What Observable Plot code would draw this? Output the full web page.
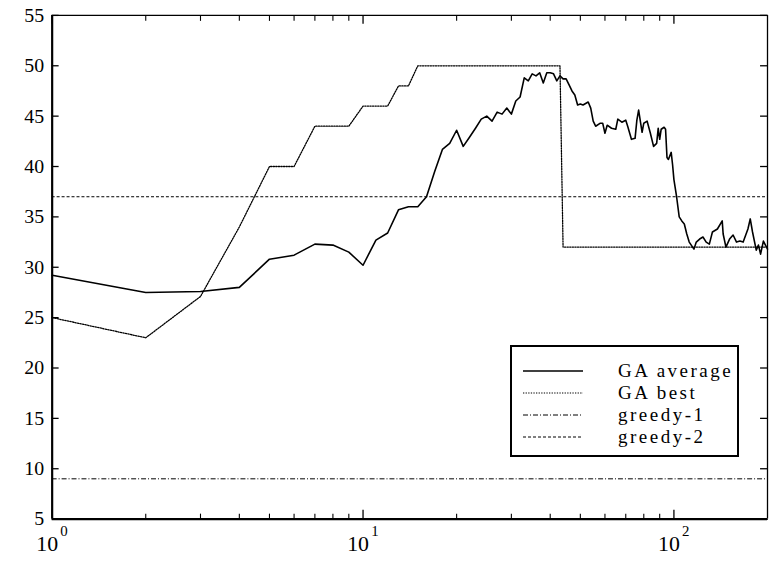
<!DOCTYPE html>
<html>
<head>
<meta charset="utf-8">
<script src="https://cdn.jsdelivr.net/npm/d3@7"></script>
<script src="https://cdn.jsdelivr.net/npm/@observablehq/plot@0.6"></script>
<style>
  html, body { margin: 0; padding: 0; background: #fff; overflow: hidden; }
  #wrap { position: relative; width: 769px; height: 567px; overflow: hidden; }
  #legend { position: absolute; left: 510px; top: 345px; width: 225px; height: 108px;
    border: 2px solid #000; background: #fff; font-family: "Liberation Serif", "Times New Roman", "DejaVu Serif", serif; font-size: 19px; }
  .row { position: absolute; left: 0; height: 22px; width: 225px; }
  .row svg { position: absolute; left: 11px; top: 0; }
  .row span { position: absolute; left: 106px; top: 0; line-height: 22px; letter-spacing: 2.5px; white-space: nowrap; }
</style>
</head>
<body>
<div id="wrap"></div>
<script>
// GA average (generation, fitness)
const avgGen = [1,2,3,4,5,6,7,8,9,10,11,12,13,14,15,16,17,18,19,20,21,22,23,24,25,26,27,28,29,30,31,32,33,34,35,36,37,38,39,40,41,42,43,44,45,46,47,48,49,50,51,53,54,55,56,58,59,60,61,63,65,66,68,70,71,73,75,76,77,79,80,82,84,86,88,89,90,91,93,94,95,96,98,99,100,102,104,106,108,110,112,116,118,121,124,127,130,133,138,143,144,147,151,155,159,163,167,173,176,179,184,187,190,194,200];
const avgVal = [29.2,27.5,27.6,28.0,30.8,31.2,32.3,32.2,31.5,30.2,32.7,33.4,35.7,36.0,36.0,37.0,39.5,41.7,42.3,43.6,42.0,42.9,43.8,44.7,45.0,44.5,45.4,45.2,45.8,45.2,46.5,46.9,48.8,48.5,49.2,49.0,49.3,48.3,49.3,49.3,49.2,48.5,49.0,48.7,48.7,48.1,47.5,47.1,46.1,46.2,46.1,46.4,45.8,44.5,44.0,44.3,44.3,43.3,44.1,43.8,43.7,44.7,44.4,44.6,44.0,42.7,42.8,44.6,45.6,43.4,44.3,44.5,43.3,42.0,42.3,43.8,42.7,43.7,43.9,43.7,40.9,40.7,41.4,40.2,38.7,37.0,35.0,34.6,34.3,33.3,32.5,31.8,32.5,32.8,33.0,32.5,32.3,33.5,33.8,34.6,33.3,32.0,32.8,33.2,32.5,32.6,32.5,33.8,34.8,33.5,31.7,32.2,31.3,32.6,31.8];
// GA best
const bestGen = [1,2,3,4,5,6,7,8,9,10,11,12,13,14,15,43,44,200];
const bestVal = [25,23,27.1,34,40,40,44,44,44,46,46,46,48,48,50,50,32,32];
// greedy baselines
const greedy1 = 9;
const greedy2 = 37;
// ticks
const yTicks = [5,10,15,20,25,30,35,40,45,50,55];
const xMajor = [1,10,100];
const xExp = ["0","1","2"];
const xMinor = [2,3,4,5,6,7,8,9,20,30,40,50,60,70,80,90];
const legendNames = ["GA average","GA best","greedy-1","greedy-2"];

const avg = avgGen.map((g,i)=>({g, v: avgVal[i]}));
const best = bestGen.map((g,i)=>({g, v: bestVal[i]}));

const serif = '"Liberation Serif", "Times New Roman", "DejaVu Serif", serif';
const chart = Plot.plot({
  width: 774, height: 567,
  marginLeft: 52, marginRight: 2, marginTop: 15, marginBottom: 45,
  x: {type: "log", domain: [1, 200]},
  y: {domain: [5, 55]},
  style: {fontFamily: serif, background: "white", color: "black", overflow: "visible"},
  marks: [
    Plot.ruleY([greedy1], {stroke: "black", strokeWidth: 1, strokeDasharray: "5,2,1,2"}),
    Plot.ruleY([greedy2], {stroke: "black", strokeWidth: 1, strokeDasharray: "3,2"}),
    Plot.line(best, {x: "g", y: "v", stroke: "black", strokeWidth: 1.3, strokeDasharray: "1.3,1.3"}),
    Plot.line(avg, {x: "g", y: "v", stroke: "black", strokeWidth: 1.6}),
    Plot.ruleX([1], {stroke: "black", strokeWidth: 2.2}),
    Plot.ruleY([5], {stroke: "black", strokeWidth: 2.2}),
    Plot.ruleY([55], {stroke: "black", strokeWidth: 1.3}),
    Plot.ruleX([200], {stroke: "black", strokeWidth: 1.3}),
    Plot.axisY({anchor: "left", ticks: yTicks, tickSize: -7, tickFormat: () => "", label: null, strokeWidth: 1.3}),
    Plot.axisY({anchor: "right", ticks: yTicks, tickSize: -8, tickFormat: () => "", label: null, strokeWidth: 1.3}),
    Plot.axisX({anchor: "bottom", ticks: xMajor, tickSize: -9, tickFormat: () => "", label: null, strokeWidth: 1.3}),
    Plot.axisX({anchor: "bottom", ticks: xMinor, tickSize: -5, tickFormat: () => "", label: null, strokeWidth: 1.1}),
    Plot.axisX({anchor: "top", ticks: xMajor, tickSize: -8, tickFormat: () => "", label: null, strokeWidth: 1.3}),
    Plot.axisX({anchor: "top", ticks: xMinor, tickSize: -5, tickFormat: () => "", label: null, strokeWidth: 1.1}),
    Plot.text(yTicks, {y: d => d, text: d => String(d), frameAnchor: "left", textAnchor: "end", dx: -8, fontSize: 20, fill: "black"}),
    Plot.text(xMajor, {x: d => d, text: () => "10", frameAnchor: "bottom", dx: -5, dy: 32, fontSize: 22, fill: "black"}),
    Plot.text(xMajor, {x: d => d, text: (d, i) => xExp[i], frameAnchor: "bottom", dx: 12, dy: 17, fontSize: 15, fill: "black"})
  ]
});
const wrap = document.getElementById("wrap");
chart.style.display = "block";
wrap.appendChild(chart);

// legend
const styles = [
  {dash: null, w: 1.6},
  {dash: "1.3,1.3", w: 1.2},
  {dash: "5,2,1,2", w: 1},
  {dash: "3,2", w: 1}
];
const leg = document.createElement("div");
leg.id = "legend";
legendNames.forEach((name, i) => {
  const row = document.createElement("div");
  row.className = "row";
  row.style.top = (13 + i * 22) + "px";
  const ns = "http://www.w3.org/2000/svg";
  const svg = document.createElementNS(ns, "svg");
  svg.setAttribute("width", 60); svg.setAttribute("height", 22);
  const ln = document.createElementNS(ns, "line");
  ln.setAttribute("x1", 0); ln.setAttribute("x2", 60);
  ln.setAttribute("y1", 11); ln.setAttribute("y2", 11);
  ln.setAttribute("stroke", "black");
  ln.setAttribute("stroke-width", styles[i].w);
  if (styles[i].dash) ln.setAttribute("stroke-dasharray", styles[i].dash);
  svg.appendChild(ln);
  const sp = document.createElement("span");
  sp.textContent = name;
  row.appendChild(svg); row.appendChild(sp);
  leg.appendChild(row);
});
wrap.appendChild(leg);
</script>
</body>
</html>
